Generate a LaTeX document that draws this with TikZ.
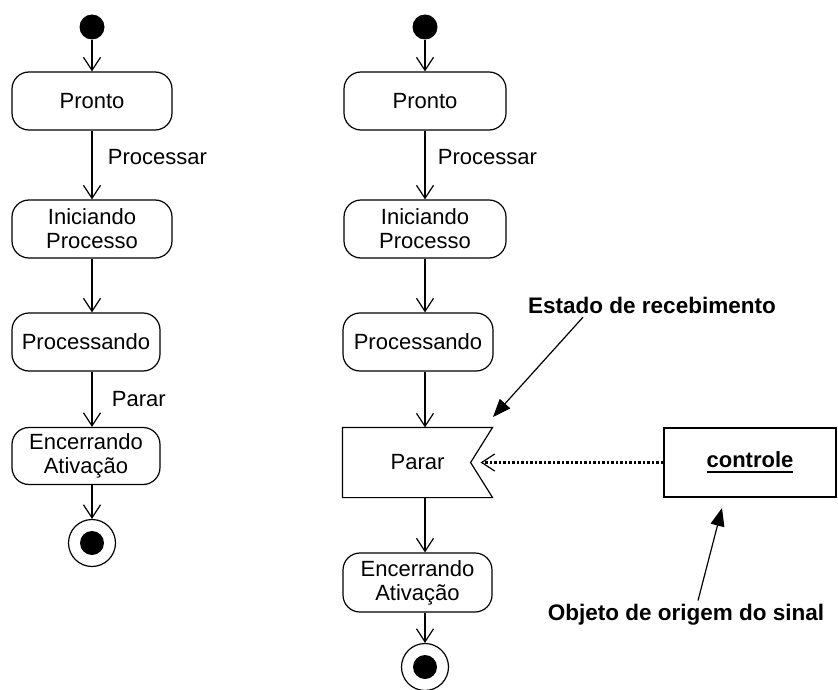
\documentclass[tikz,border=0pt]{standalone}
\usepackage{fontspec}
\setmainfont{Liberation Sans}
\usetikzlibrary{arrows.meta}

\newcommand\sublinhado[1]{\setbox0\hbox{#1}\rlap{\raisebox{-6pt}{\rule{\wd0}{2.5pt}}}\box0}

\tikzset{
  acao/.style={draw, rounded corners=17pt, minimum height=58pt, align=center, inner sep=2pt},
  ini/.style={circle, fill, inner sep=0pt, minimum size=25pt},
  fim/.style={circle, draw, inner sep=0pt, minimum size=47pt},
  nota/.style={font=\fontsize{22.5}{26}\selectfont\bfseries},
}

\begin{document}
\begin{tikzpicture}[x=1pt,y=-1pt,line width=1.2pt,
  every node/.style={font=\fontsize{22}{24}\selectfont},
  >={Straight Barb[length=13pt,width=17pt]}]
\useasboundingbox (0,0) rectangle (838,690);

% sem sinal
\node[ini] (ini1) at (92,27) {};
\node[acao, minimum width=160pt] (pronto1) at (92,101) {Pronto};
\node[acao, minimum width=160pt] (inic1) at (92,229) {Iniciando\\Processo};
\node[acao, minimum width=148pt] (proc1) at (86,342) {Processando};
\node[acao, minimum width=148pt, minimum height=57pt] (enc1) at (86,456) {Encerrando\\Ativa\c{c}\~ao};
\node[fim] (fim1) at (92,543) {};
\fill (fim1) circle (12pt);

\draw[->] (ini1) -- (pronto1);
\draw[->] (pronto1) -- (inic1);
\draw[->] (inic1) -- (inic1.south |- proc1.north);
\draw[->] (inic1.south |- proc1.south) -- (inic1.south |- enc1.north);
\draw[->] (inic1.south |- enc1.south) -- (fim1);

\node[anchor=west] at (104,157) {Processar};
\node[anchor=west] at (108,399) {Parar};

% com sinal
\node[ini] (ini2) at (425,27) {};
\node[acao, minimum width=162pt] (pronto2) at (425,101) {Pronto};
\node[acao, minimum width=162pt] (inic2) at (425,229) {Iniciando\\Processo};
\node[acao, minimum width=150pt] (proc2) at (418,342) {Processando};
\node[minimum width=149pt, minimum height=69pt, inner sep=0pt] (parar) at (417.5,462.5) {Parar\hspace{10pt}};
\node[acao, minimum width=149pt, minimum height=59pt] (enc2) at (417.5,582.5) {Encerrando\\Ativa\c{c}\~ao};
\node[fim] (fim2) at (425,667) {};
\fill (fim2) circle (12pt);

\draw (parar.north west) -- (parar.north east) -- ([xshift=-22pt]parar.east)
  -- (parar.south east) -- (parar.south west) -- cycle;

\draw[->] (ini2) -- (pronto2);
\draw[->] (pronto2) -- (inic2);
\draw[->] (inic2) -- (inic2.south |- proc2.north);
\draw[->] (inic2.south |- proc2.south) -- (inic2.south |- parar.north);
\draw[->] (inic2.south |- parar.south) -- (inic2.south |- enc2.north);
\draw[->] (inic2.south |- enc2.south) -- (fim2);

\node[anchor=west] at (434,157) {Processar};

\node[draw, minimum width=172pt, minimum height=69pt] (controle) at (750,462.5)
  {\raisebox{4pt}{\bfseries\sublinhado{controle}}};
\draw[dash pattern=on 2.5pt off 2pt, line width=2.5pt,
  -{Straight Barb[length=13pt,width=17pt,line width=1.2pt]}]
  (controle.west) -- ([xshift=-12pt]parar.east);

% notas
\node[nota] (estado) at (652,305) {Estado de recebimento};
\coordinate (pe) at (493,417);
\draw[-{Triangle[length=18pt,width=14pt]}] ([xshift=-69pt]estado.south) -- (pe);

\node[nota] (objeto) at (686,615) {Objeto de origem do sinal};
\coordinate (po) at (722,508);
\draw[-{Triangle[length=18pt,width=14pt]}] ([xshift=12pt]objeto.north) -- (po);
\end{tikzpicture}
\end{document}
